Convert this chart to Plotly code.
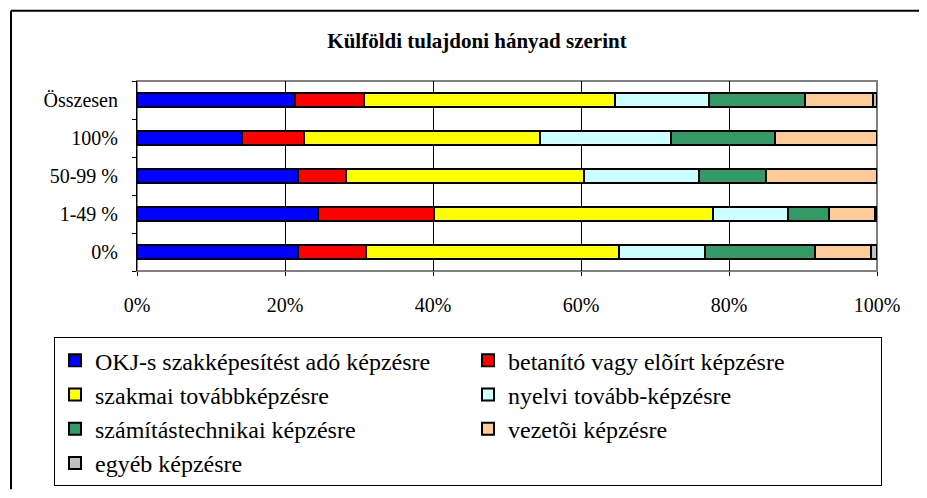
import plotly.graph_objects as go

categories = ["0%", "1-49 %", "50-99 %", "100%", "Összesen"]
series_names = [
    "OKJ-s szakképesítést adó képzésre",
    "betanító vagy elõírt képzésre",
    "szakmai továbbképzésre",
    "nyelvi tovább-képzésre",
    "számítástechnikai képzésre",
    "vezetõi képzésre",
    "egyéb képzésre",
]
okj = [21.7, 24.4, 21.8, 14.2, 21.3]
betanito = [9.3, 15.8, 6.5, 8.3, 9.4]
szakmai = [34.1, 37.7, 32.1, 32.0, 33.9]
nyelvi = [11.7, 10.1, 15.5, 17.7, 12.7]
szamitas = [14.8, 5.5, 9.1, 14.0, 13.0]
vezetoi = [7.6, 6.2, 15.0, 13.8, 9.2]
egyeb = [0.8, 0.3, 0.0, 0.0, 0.5]
tick_vals = [0, 20, 40, 60, 80, 100]
tick_text = ["0%", "20%", "40%", "60%", "80%", "100%"]
title_text = "Külföldi tulajdoni hányad szerint"

colors = ["#0000FF", "#FF0000", "#FFFF00", "#CCFFFF", "#339966", "#FFCC99", "#C0C0C0"]
values = [okj, betanito, szakmai, nyelvi, szamitas, vezetoi, egyeb]

# page body has an 8px margin; figure fills the rest of the 927x498 window
OFF = 8
W, H = 927 - OFF, 498 - OFF
L, R, T, B = 137 - OFF, 50, 81 - OFF, 222
PW, PH = W - L - R, H - T - B

def px_x(x):  # window pixel -> paper x
    return (x - OFF - L) / PW

def px_y(y):  # window pixel -> paper y
    return (H - B - (y - OFF)) / PH

FONT = "Liberation Serif, Times New Roman, serif"

fig = go.Figure()
for name, vals, col in zip(series_names, values, colors):
    fig.add_trace(go.Bar(
        y=categories, x=vals, name=name, orientation="h",
        marker=dict(color=col, line=dict(color="black", width=2)),
    ))

shapes = [
    dict(type="rect", xref="paper", yref="paper", x0=0, x1=1, y0=0, y1=1,
         line=dict(color="#808080", width=2), layer="below"),
    dict(type="line", xref="paper", yref="paper", x0=px_x(11), x1=px_x(930),
         y0=px_y(9), y1=px_y(9), line=dict(color="black", width=2)),
    dict(type="line", xref="paper", yref="paper", x0=px_x(11), x1=px_x(11),
         y0=px_y(9), y1=px_y(500), line=dict(color="black", width=2)),
]

fig.update_layout(
    width=W, height=H,
    margin=dict(l=L, r=R, t=T, b=B, pad=0),
    paper_bgcolor="white", plot_bgcolor="white",
    barmode="stack", bargap=0.64,
    font=dict(family=FONT, color="black", size=20),
    title=dict(text="<b>" + title_text + "</b>", font=dict(family=FONT, size=21, color="black"),
               xref="container", yref="container", x=(477 - OFF) / W, y=1 - (41 - OFF) / H,
               xanchor="center", yanchor="middle"),
    xaxis=dict(range=[0, 100], tickvals=tick_vals, ticktext=tick_text,
               showgrid=True, gridcolor="black", gridwidth=1,
               ticks="outside", ticklen=4, tickcolor="black",
               showline=False, zeroline=False, ticklabelstandoff=12,
               tickfont=dict(family=FONT, size=20, color="black"), fixedrange=True),
    yaxis=dict(categoryorder="array", categoryarray=categories,
               showline=True, linecolor="black", linewidth=1,
               ticks="outside", ticklen=4, tickcolor="black", tickson="boundaries",
               showgrid=False, zeroline=False, ticklabelstandoff=14,
               tickfont=dict(family=FONT, size=20, color="black")),
    legend=dict(orientation="h", x=px_x(54), y=px_y(344), xanchor="left", yanchor="top",
                bordercolor="black", borderwidth=1, bgcolor="white",
                entrywidth=368, entrywidthmode="pixels", traceorder="normal",
                font=dict(family=FONT, size=24, color="black"), itemclick=False),
    shapes=shapes,
    showlegend=True,
)

fig.write_html("out.html")
